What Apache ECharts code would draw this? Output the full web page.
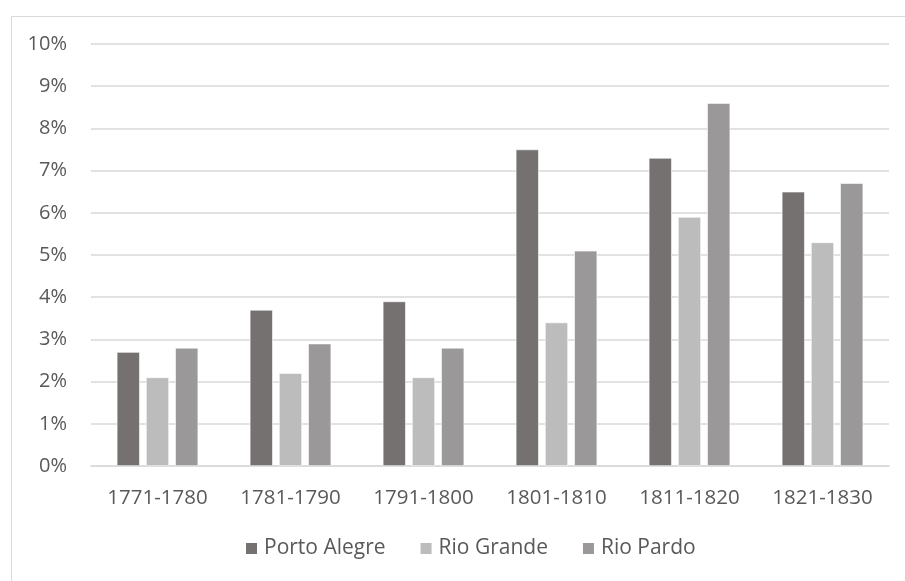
<!DOCTYPE html>
<html>
<head>
<meta charset="utf-8">
<script src="https://cdn.jsdelivr.net/npm/echarts@6/dist/echarts.min.js"></script>
<style>
  html, body { margin: 0; padding: 0; background: #fff; }
  #chart { width: 905px; height: 581px; }
</style>
</head>
<body>
<div id="chart"></div>
<script>
// Decades on the category axis
const decades = ['1771-1780', '1781-1790', '1791-1800', '1801-1810', '1811-1820', '1821-1830'];

// Percentages per town and decade
const portoAlegre = [2.7, 3.7, 3.9, 7.5, 7.3, 6.5];
const rioGrande   = [2.1, 2.2, 2.1, 3.4, 5.9, 5.3];
const rioPardo    = [2.8, 2.9, 2.8, 5.1, 8.6, 6.7];

const seriesNames = ['Porto Alegre', 'Rio Grande', 'Rio Pardo'];
const seriesColors = ['#767171', '#bcbcbc', '#9a9898'];

const FONT = '"Open Sans", "Noto Sans", sans-serif';
const TEXT = '#595959';

const chart = echarts.init(document.getElementById('chart'), null, { renderer: 'canvas' });

function barSeries(name, data, color) {
  return {
    name: name,
    type: 'bar',
    data: data,
    barWidth: 23,
    barGap: '27%',
    itemStyle: { color: color, borderColor: '#ffffff', borderWidth: 0.6 },
    emphasis: { disabled: true }
  };
}

chart.setOption({
  animation: false,
  backgroundColor: '#ffffff',
  graphic: [{
    type: 'rect',
    left: 9, top: 14,
    shape: { x: 0, y: 0, width: 905, height: 600 },
    style: { fill: 'none', stroke: '#d9d9d9', lineWidth: 1 },
    silent: true,
    z: -1
  }],
  grid: { left: 91, right: 16, top: 44, bottom: 115, containLabel: false },
  legend: {
    data: seriesNames,
    bottom: 17,
    left: 239,
    itemWidth: 13,
    itemHeight: 13,
    itemGap: 33,
    icon: 'rect',
    textStyle: { color: TEXT, fontFamily: FONT, fontSize: 21, padding: [0, 0, 0, 1] }
  },
  xAxis: {
    type: 'category',
    data: decades,
    axisLine: { show: true, lineStyle: { color: '#d9d9d9', width: 1.5 } },
    axisTick: { show: false },
    axisLabel: { color: TEXT, fontFamily: FONT, fontSize: 20.5, margin: 22 }
  },
  yAxis: {
    type: 'value',
    min: 0, max: 10, interval: 1,
    axisLine: { show: false },
    axisTick: { show: false },
    splitLine: { lineStyle: { color: '#d9d9d9', width: 1.5 } },
    axisLabel: { color: TEXT, fontFamily: FONT, fontSize: 20, margin: 24, formatter: '{value}%' }
  },
  series: [
    barSeries(seriesNames[0], portoAlegre, seriesColors[0]),
    barSeries(seriesNames[1], rioGrande, seriesColors[1]),
    barSeries(seriesNames[2], rioPardo, seriesColors[2])
  ]
});
</script>
</body>
</html>
